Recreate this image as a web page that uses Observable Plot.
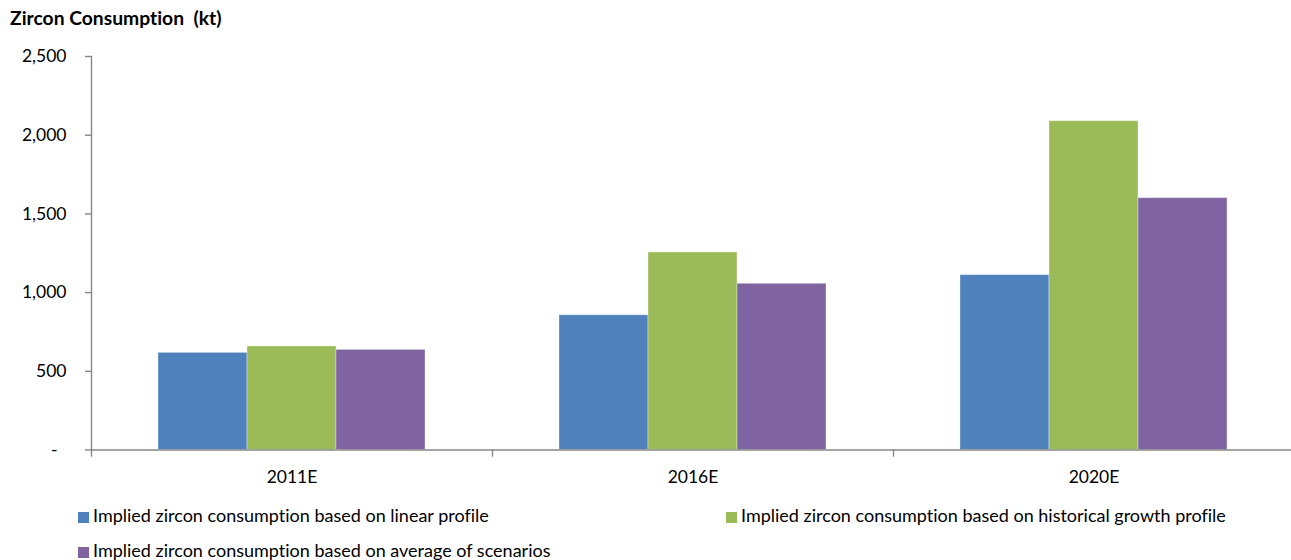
<!DOCTYPE html>
<html>
<head>
<meta charset="utf-8">
<script src="https://cdn.jsdelivr.net/npm/d3@7"></script>
<script src="https://cdn.jsdelivr.net/npm/@observablehq/plot@0.6"></script>
<style>
  html, body { margin: 0; padding: 0; background: #fff; }
  #wrap { width: 1291px; font-family: Lato, "Open Sans", sans-serif; color: #000; font-variant-ligatures: none; }
  #title { box-sizing: border-box; height: 40px; padding: 6px 0 0 10px; font-size: 19.3px; font-weight: bold; line-height: normal; white-space: pre; }
  #chart svg { display: block; font-variant-ligatures: none; }
  .legend-row { display: flex; padding-left: 78px; font-size: 18px; line-height: normal; white-space: nowrap; }
  .legend-row.first { margin-top: 4px; }
  .legend-row.second { margin-top: 12.8px; }
  .legend-item.wide { width: 648px; }
  .legend-item .sw { display: inline-block; width: 11px; height: 11px; margin-right: 4px; vertical-align: -1px; }
</style>
</head>
<body>
<div id="wrap">
  <div id="title">Zircon Consumption  (kt)</div>
  <div id="chart"></div>
  <div class="legend-row first" id="legend1"></div>
  <div class="legend-row second" id="legend2"></div>
</div>
<script>
// Categories and series
const years = ["2011E", "2016E", "2020E"];
const seriesNames = [
  "Implied zircon consumption based on linear profile",
  "Implied zircon consumption based on historical growth profile",
  "Implied zircon consumption based on average of scenarios"
];
const linearProfile    = [617, 856, 1111];
const historicalGrowth = [658, 1255, 2089];
const averageScenarios = [636, 1056, 1600];
const yTicks = [0, 500, 1000, 1500, 2000, 2500];

const seriesColors = ["#4F81BD", "#9BBB59", "#8064A2"];
const axisColor = "#878787";

const seriesValues = [linearProfile, historicalGrowth, averageScenarios];
const rows = years.flatMap((year, i) =>
  seriesNames.map((name, s) => ({year, series: name, value: seriesValues[s][i]}))
);

const marginTop = 16, marginBottom = 50.5, height = 460;
const innerHeight = height - marginTop - marginBottom;

// The category axis runs a few pixels past the right edge of the page
const chart = Plot.plot({
  width: 1291,
  height,
  marginTop,
  marginBottom,
  marginLeft: 90,
  marginRight: -4,
  style: {fontFamily: "Lato, 'Open Sans', sans-serif", fontSize: "17.5px", color: "#000", background: "#fff"},
  fx: {domain: years, padding: 0, label: null},
  x: {domain: seriesNames, paddingInner: 0, paddingOuter: 0.748, axis: null},
  y: {domain: [0, 2500], label: null},
  color: {domain: seriesNames, range: seriesColors},
  marks: [
    Plot.barY(rows, {fx: "year", x: "series", y: "value", fill: "series", stroke: "#fff", strokeOpacity: 0.35, strokeWidth: 1}),
    Plot.ruleY([0], {stroke: axisColor, strokeWidth: 1.4}),
    // vertical value axis line, first group only
    Plot.frame({anchor: "left", fx: years[0], stroke: axisColor, strokeWidth: 1.4}),
    // category boundary ticks below the baseline
    Plot.frame({anchor: "left", insetTop: innerHeight, insetBottom: -6, stroke: axisColor, strokeWidth: 1.4}),
    Plot.axisY({ticks: yTicks, tickSize: 6, tickPadding: 19, stroke: axisColor, strokeWidth: 1.4, label: null,
      tickFormat: d => d === 0 ? "-\u00a0\u00a0" : d3.format(",")(d)}),
    Plot.axisFx({anchor: "bottom", tickSize: 0, tickPadding: 21, label: null})
  ]
});
document.getElementById("chart").appendChild(chart);

// Legend below the chart: two entries on the first row, one on the second
function legendItem(i, wide) {
  const item = document.createElement("div");
  item.className = "legend-item" + (wide ? " wide" : "");
  const sw = document.createElement("span");
  sw.className = "sw";
  sw.style.background = seriesColors[i];
  item.appendChild(sw);
  item.appendChild(document.createTextNode(seriesNames[i]));
  return item;
}
const legend1 = document.getElementById("legend1");
legend1.appendChild(legendItem(0, true));
legend1.appendChild(legendItem(1, false));
document.getElementById("legend2").appendChild(legendItem(2, false));
</script>
</body>
</html>
